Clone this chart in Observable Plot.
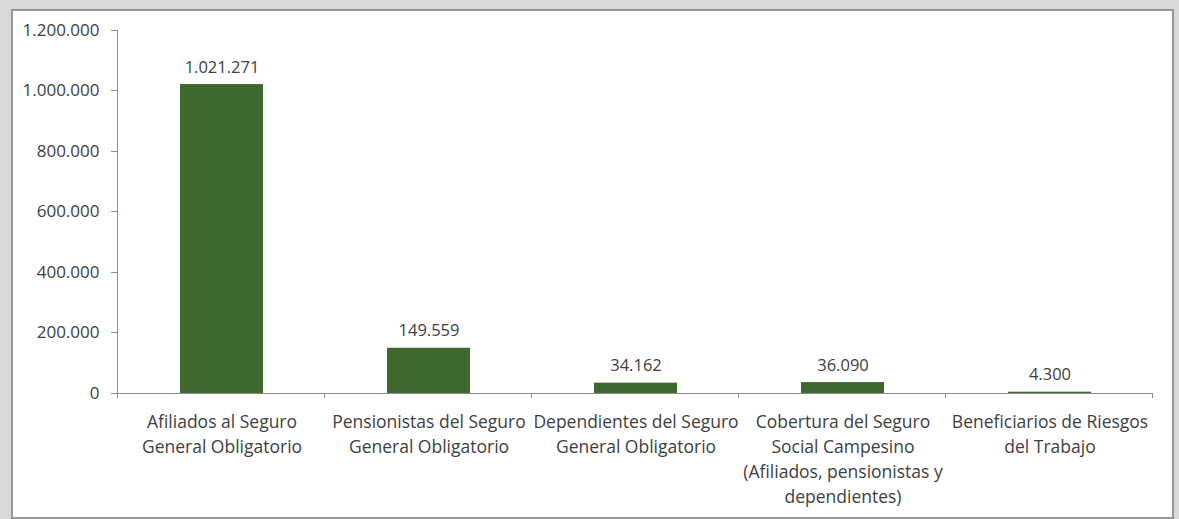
<!DOCTYPE html>
<html><head><meta charset="utf-8">
<script src="https://cdn.jsdelivr.net/npm/d3@7"></script>
<script src="https://cdn.jsdelivr.net/npm/@observablehq/plot@0.6"></script>
<style>
html,body{margin:0;padding:0;background:#d9d9d9;width:1179px;height:519px;overflow:hidden;}
#panel{position:absolute;left:11px;top:9px;width:1159px;height:506px;background:#fff;border:2px solid #969696;}
#panel svg{display:block;}
</style></head><body><div id="panel"></div>
<script>
const categories = ["Afiliados", "Pensionistas", "Dependientes", "Campesino", "Riesgos"];
const categoryLabels = [
  "Afiliados al Seguro\nGeneral Obligatorio",
  "Pensionistas del Seguro\nGeneral Obligatorio",
  "Dependientes del Seguro\nGeneral Obligatorio",
  "Cobertura del Seguro\nSocial Campesino\n(Afiliados, pensionistas y\ndependientes)",
  "Beneficiarios de Riesgos\ndel Trabajo"
];
const values = [1021271, 149559, 34162, 36090, 4300];
const valueLabels = ["1.021.271", "149.559", "34.162", "36.090", "4.300"];
const yTicks = [0, 200000, 400000, 600000, 800000, 1000000, 1200000];
const yTickLabels = ["0", "200.000", "400.000", "600.000", "800.000", "1.000.000", "1.200.000"];

const data = categories.map((c, i) => ({cat: c, label: categoryLabels[i], value: values[i], vlabel: valueLabels[i]}));
const axisColor = "#8a8a8a";
const textColor = "#404040";
const PAD_INNER = 0.6;

function axisLines() {
  return (index, scales, values, dims) => {
    const x = scales.x, y = scales.y;
    const step = x(categories[1]) - x(categories[0]);
    const bw = (typeof x.bandwidth === "number" ? x.bandwidth : step * (1 - PAD_INNER));
    const bounds = categories.map(c => x(c) + bw / 2 - step / 2);
    bounds.push(x(categories[categories.length - 1]) + bw / 2 + step / 2);
    const g = d3.create("svg:g").attr("stroke", axisColor).attr("fill", "none").attr("shape-rendering", "crispEdges");
    const y0 = y(0), yTop = y(yTicks[yTicks.length - 1]);
    g.append("line").attr("x1", bounds[0]).attr("x2", bounds[0]).attr("y1", yTop).attr("y2", y0);
    g.append("line").attr("x1", bounds[0] - 7).attr("x2", bounds[bounds.length - 1]).attr("y1", y0).attr("y2", y0);
    for (const b of bounds) g.append("line").attr("x1", b).attr("x2", b).attr("y1", y0).attr("y2", y0 + 5);
    for (const t of yTicks) g.append("line").attr("x1", bounds[0] - 7).attr("x2", bounds[0]).attr("y1", y(t)).attr("y2", y(t));
    return g.node();
  };
}

const chart = Plot.plot({
  width: 1159,
  height: 506,
  marginLeft: 104,
  marginRight: 18,
  marginTop: 19,
  marginBottom: 124,
  x: {domain: categories, paddingInner: PAD_INNER, paddingOuter: 0.3, axis: null},
  y: {domain: [0, 1200000], axis: null},
  style: {fontFamily: "'Open Sans', Lato, sans-serif", fontSize: "17px", color: textColor, background: "#fff", overflow: "visible"},
  marks: [
    Plot.barY(data, {x: "cat", y: "value", fill: "#3f682f"}),
    axisLines(),
    Plot.text(yTicks, {x: null, y: d => d, text: (d, i) => yTickLabels[i], frameAnchor: "left", textAnchor: "end", dx: -18, fill: textColor, fontSize: 17}),
    Plot.text(data, {x: "cat", y: "value", text: "vlabel", lineAnchor: "bottom", dy: -12, fill: textColor, fontSize: 16.5}),
    Plot.text(data, {x: "cat", text: "label", frameAnchor: "bottom", lineAnchor: "top", dy: 17, lineHeight: 1.43, fill: textColor, fontSize: 17.5})
  ]
});
document.getElementById("panel").appendChild(chart);
</script>
</body></html>
